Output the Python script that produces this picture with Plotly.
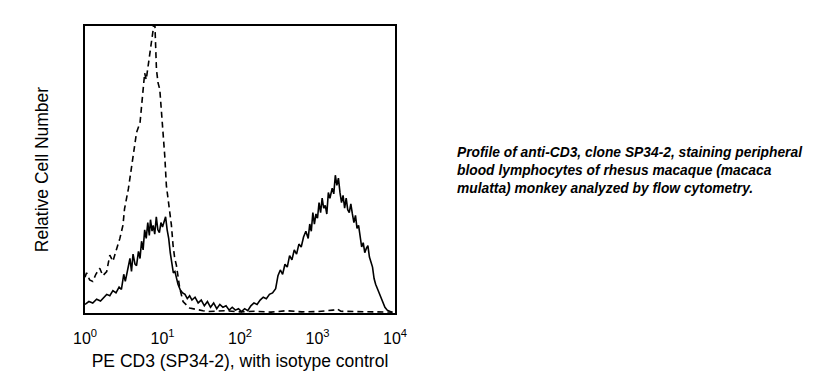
import plotly.graph_objects as go

# Stained sample (solid): log10 fluorescence channel, relative count
stain_log = [0.00,0.05,0.10,0.15,0.20,0.24,0.28,0.32,0.36,0.40,0.44,0.47,0.50,0.52,0.55,0.58,0.60,0.62,0.645,0.665,
             0.69,0.71,0.73,0.75,0.77,0.79,0.81,0.83,0.845,0.865,0.88,0.90,0.92,0.94,0.96,0.98,1.00,1.02,1.04,1.06,
             1.08,1.10,1.12,1.14,1.16,1.18,1.20,1.23,1.26,1.29,1.32,1.35,1.38,1.42,1.46,1.50,1.54,1.58,1.62,1.66,
             1.70,1.74,1.78,1.82,1.86,1.90,1.94,1.98,2.02,2.06,2.10,2.14,2.18,2.22,2.26,2.30,2.34,2.38,2.42,2.46,
             2.49,2.52,2.55,2.58,2.61,2.64,2.67,2.70,2.73,2.76,2.79,2.82,2.85,2.88,2.90,2.92,2.94,2.96,2.98,3.00,
             3.02,3.04,3.06,3.08,3.10,3.12,3.14,3.16,3.19,3.21,3.23,3.25,3.27,3.29,3.31,3.33,3.35,3.37,3.39,3.41,
             3.43,3.45,3.47,3.49,3.51,3.53,3.55,3.57,3.59,3.61,3.63,3.65,3.67,3.69,3.71,3.73,3.75,3.78,3.81,3.84,
             3.87,3.90,3.93,3.96]
stain_cnt = [3.0,4.0,3.5,4.8,4.2,5.5,6.5,6.0,7.8,7.0,9.0,8.2,13.5,11.0,15.5,19.0,14.5,20.5,17.0,16.5,
             21.5,19.0,25.0,22.0,29.0,26.0,31.5,27.0,32.5,28.5,30.5,27.5,33.5,29.0,28.0,31.5,30.0,32.0,33.5,29.0,
             26.0,21.0,17.0,14.0,14.5,12.0,10.0,8.0,7.0,6.5,5.0,6.0,4.5,5.5,3.5,4.5,2.5,4.0,2.0,3.5,
             1.5,3.0,2.0,2.5,1.0,2.0,1.0,1.5,0.5,1.5,0.8,2.5,3.5,3.0,4.5,5.5,5.0,6.5,7.0,8.5,
             13.0,15.0,13.5,17.0,16.0,20.0,18.5,22.0,20.5,24.0,23.0,26.5,28.5,26.0,31.0,28.5,35.0,31.0,34.5,33.0,
             38.5,35.0,40.0,36.5,37.5,34.5,42.0,40.0,43.5,41.5,48.0,44.5,47.0,42.0,38.5,41.0,36.5,40.0,36.0,35.0,
             38.0,34.5,31.5,34.0,29.5,30.5,27.0,23.0,24.5,21.0,22.5,23.5,19.5,17.5,16.0,12.0,10.0,8.0,6.0,4.0,
             2.0,1.0,0.5,0.3]

# Isotype control (dashed)
iso_log = [0.00,0.02,0.06,0.10,0.14,0.19,0.23,0.28,0.32,0.36,0.41,0.45,0.49,0.51,0.56,0.60,0.64,0.665,0.71,0.73,
           0.75,0.77,0.79,0.815,0.836,0.857,0.879,0.892,0.900,0.922,0.943,0.965,0.986,1.008,1.029,1.050,1.072,1.093,1.115,1.136,
           1.158,1.179,1.222,1.265,1.350,1.522,1.60,1.80,2.00,2.20,2.40,2.60,2.80,3.00,3.20,3.25,3.30,3.50,3.70,3.90,3.97]
iso_cnt = [12.5,14.0,11.5,11.0,13.5,15.6,13.0,14.4,20.2,18.0,22.5,26.0,30.6,36.3,43.3,51.3,58.2,62.9,66.3,72.1,
           79.0,83.6,81.3,85.9,90.5,94.0,98.6,104.0,102.0,84.8,80.2,77.9,70.9,61.7,54.8,44.4,39.8,36.3,30.6,23.6,
           19.0,16.7,8.7,4.0,1.7,0.8,0.5,0.8,0.4,0.6,0.3,0.8,0.4,0.5,1.0,1.5,0.6,0.5,0.4,0.5,0.3]

tick_vals = [1, 10, 100, 1000, 10000]
tick_text = ["10<sup>0</sup>", "10<sup>1</sup>", "10<sup>2</sup>", "10<sup>3</sup>", "10<sup>4</sup>"]

x_title = "PE CD3 (SP34-2), with isotype control"
y_title = "Relative Cell Number"
caption = ("Profile of anti-CD3, clone SP34-2, staining peripheral<br>"
           "blood lymphocytes of rhesus macaque (macaca<br>"
           "mulatta) monkey analyzed by flow cytometry.")

FONT = "Liberation Sans, Arial, sans-serif"

fig = go.Figure()
fig.add_trace(go.Scatter(x=[10 ** v for v in iso_log], y=iso_cnt, mode="lines",
                         line=dict(color="black", width=1.6, dash="6px,4px"), showlegend=False))
fig.add_trace(go.Scatter(x=[10 ** v for v in stain_log], y=stain_cnt, mode="lines",
                         line=dict(color="black", width=1.6), showlegend=False))

fig.update_layout(
    width=816, height=391,
    margin=dict(l=85, r=421, t=26, b=78),
    paper_bgcolor="white", plot_bgcolor="white",
    font=dict(family=FONT, color="black", size=16),
    xaxis=dict(type="log", range=[0, 4], tickvals=tick_vals, ticktext=tick_text,
               showgrid=False, zeroline=False, showline=True, mirror=True,
               linecolor="black", linewidth=2, ticks="outside", ticklen=10,
               tickcolor="rgba(0,0,0,0)", tickfont=dict(size=16),
               automargin=False,
               title=dict(text=x_title, font=dict(size=17.5), standoff=9)),
    yaxis=dict(range=[0, 100], showticklabels=False, showgrid=False, zeroline=False,
               showline=True, mirror=True, linecolor="black", linewidth=2, ticks="",
               automargin=False,
               title=dict(text=y_title, font=dict(size=17.5), standoff=30)),
    annotations=[dict(text="<b><i>" + caption + "</i></b>", xref="paper", yref="paper",
                      x=1.194, y=0.498, xanchor="left", yanchor="middle", align="left",
                      showarrow=False, font=dict(size=13.8, family=FONT))],
)

fig.write_html("out.html", config={"displayModeBar": False},
               post_script="document.body.style.margin='0px';document.body.style.overflow='hidden';")
